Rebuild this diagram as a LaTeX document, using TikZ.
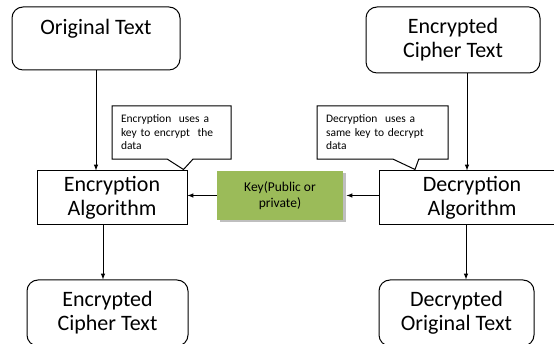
\documentclass[tikz,border=0pt]{standalone}
\usepackage{fontspec}
\setmainfont{Carlito}
\usepackage{xcolor}
\usetikzlibrary{arrows, positioning, shapes.callouts, shadows}

\definecolor{keygreen}{RGB}{155,187,89}

\begin{document}
\begin{tikzpicture}[x=1pt, y=1pt, >=latex, line width=1pt,
    txtbox/.style={rectangle, draw, rounded corners=11pt, align=center,
      inner sep=0pt, font=\fontsize{22}{24}\selectfont},
    algo/.style={rectangle, draw, align=center, inner sep=0pt,
      minimum height=54pt, font=\fontsize{22}{24}\selectfont},
    keybox/.style={rectangle, fill=keygreen, align=center,
      minimum width=126pt, minimum height=49pt,
      font=\fontsize{13.5}{16}\selectfont,
      drop shadow={shadow xshift=2.5pt, shadow yshift=-2.5pt, fill=black!25, opacity=1}},
    note/.style={rectangle callout, draw, fill=white, align=left,
      inner sep=9pt, minimum height=49pt, callout pointer width=26pt,
      font=\fontsize{11.5}{13.5}\selectfont}
]
\clip (0,0) rectangle (554,344);

% top row
\node[txtbox, minimum width=168pt, minimum height=63pt] (orig) at (96,305.5) {Original Text\\~};
\node[txtbox, minimum width=174pt, minimum height=66pt] (ect) at (453,304) {Encrypted\\Cipher Text};

% middle row
\node[algo, minimum width=150pt] (enc) at (112,146) {Encryption\\Algorithm};
\node[algo, minimum width=186pt] (dec) at (472,146) {Decryption\\Algorithm};
\node[keybox] (key) at (280,148.5) {Key(Public or\\private)};

% bottom row
\node[txtbox, minimum width=161pt, minimum height=66pt] (ect2) at (107.5,31) {Encrypted\\Cipher Text};
\node[txtbox, minimum width=155pt, minimum height=66pt] (dot) at (456.5,31) {Decrypted\\Original Text};

% notes
\coordinate (tip1) at ([xshift=-4pt,yshift=1pt]enc.north east);
\coordinate (tip2) at ([xshift=-57pt,yshift=1pt]dec.north);
\node[note, text width=101pt, callout absolute pointer={(tip1)}] (call1) at (171.5,211.5)
  {Encryption\ \ uses\ a\\key\ to\ encrypt\ \ the\\data};
\node[note, text width=113pt, callout absolute pointer={(tip2)}] (call2) at (382.5,211.5)
  {Decryption\ \ uses\ a\\same key to decrypt\\data};

% arrows
\draw[->] (orig.south) -- (orig.south |- enc.north);
\draw[->] ([xshift=14pt]ect.south) -- ([xshift=14pt]ect.south |- dec.north);
\draw[->] ([xshift=-9pt]enc.south) -- ([xshift=-9pt]enc.south |- ect2.north);
\draw[->] ([xshift=-6pt]dec.south) -- ([xshift=-6pt]dec.south |- dot.north);
\draw[->] (key.west) -- (key.west -| enc.east);
\draw[->] (dec.west |- key.east) -- ([xshift=3pt]key.east);

\end{tikzpicture}
\end{document}
